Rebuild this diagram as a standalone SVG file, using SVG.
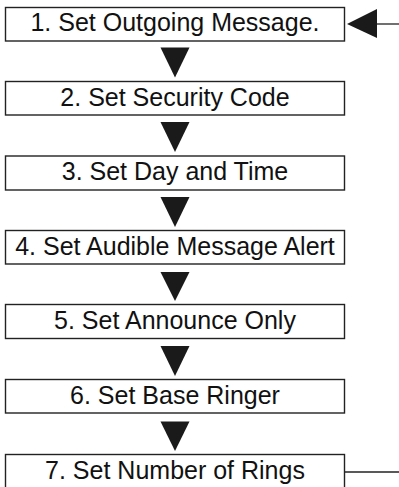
<svg xmlns="http://www.w3.org/2000/svg" width="399" height="487" viewBox="0 0 399 487">
<style>
.box{fill:#fff;stroke:#222;stroke-width:1.4}
.lbl{font-family:"Liberation Sans",Arial,sans-serif;font-size:25px;fill:#111;text-anchor:middle}
.tri{fill:#1a1a1a}
.ln{stroke:#222;stroke-width:1.3;fill:none}
</style>
<rect width="399" height="487" fill="#fff"/>
<g id="connectors">
<polygon class="tri" points="160.5,47.5 189.5,47.5 175,77.5"/>
<polygon class="tri" points="160.5,122 189.5,122 175,152"/>
<polygon class="tri" points="160.5,197 189.5,197 175,227"/>
<polygon class="tri" points="160.5,272 189.5,272 175,301"/>
<polygon class="tri" points="160.5,346 189.5,346 175,376"/>
<polygon class="tri" points="160.5,421.5 189.5,421.5 175,451"/>
<line class="ln" x1="376" y1="24" x2="399" y2="24"/>
<polygon class="tri" points="347,24 377,9 377,38"/>
<line class="ln" x1="345" y1="472" x2="399" y2="472"/>
</g>
<g id="n1"><rect class="box" x="5.5" y="7.5" width="339" height="33.5"/><text class="lbl" x="175" y="31">1. Set Outgoing Message.</text></g>
<g id="n2"><rect class="box" x="5.5" y="81.5" width="339" height="33.5"/><text class="lbl" x="175" y="105.5">2. Set Security Code</text></g>
<g id="n3"><rect class="box" x="5.5" y="156" width="339" height="34"/><text class="lbl" x="175" y="180">3. Set Day and Time</text></g>
<g id="n4"><rect class="box" x="5.5" y="230.5" width="339" height="33.5"/><text class="lbl" x="175" y="254.5">4. Set Audible Message Alert</text></g>
<g id="n5"><rect class="box" x="5.5" y="304.5" width="339" height="34"/><text class="lbl" x="175" y="328.5">5. Set Announce Only</text></g>
<g id="n6"><rect class="box" x="5.5" y="379.5" width="339" height="33.5"/><text class="lbl" x="175" y="403.5">6. Set Base Ringer</text></g>
<g id="n7"><rect class="box" x="5.5" y="454.5" width="339" height="40"/><text class="lbl" x="175" y="478.5">7. Set Number of Rings</text></g>
</svg>
